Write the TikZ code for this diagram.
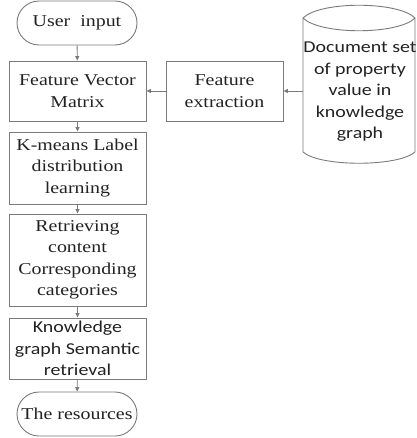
\documentclass[tikz,border=0pt]{standalone}
\usepackage{fontspec}
\setmainfont{Liberation Serif}[FakeStretch=1.2]
\newfontfamily\docsans{Carlito}[FakeStretch=1.2]
\usetikzlibrary{arrows.meta}
\definecolor{edgegray}{HTML}{7A7A7A}
\definecolor{inkgray}{HTML}{222222}
\tikzset{
  every node/.style={inner sep=0pt, text=inkgray, align=center,
    font=\fontsize{16.6}{21.5}\selectfont},
  procbox/.style={draw=edgegray, line width=0.9pt, rectangle},
  capsule/.style={draw=edgegray, line width=0.9pt, rectangle,
    rounded corners=22pt, minimum width=120pt, minimum height=44pt},
  flow/.style={draw=edgegray, line width=0.9pt,
    -{Triangle[length=4.5pt,width=4pt]}},
  sansfont/.style={font=\docsans\fontsize{16.6}{21.5}\selectfont}
}
\begin{document}
\begin{tikzpicture}[x=1pt,y=-1pt]
\useasboundingbox (0,0) rectangle (416,438);

% main column
\node[capsule] (ui) at (77,23) {User\ \ input};
\node[procbox, minimum width=137pt, minimum height=60pt] (fvm) at (77.5,91)
  {Feature Vector\\Matrix};
\node[procbox, minimum width=137pt, minimum height=72pt] (km) at (77.5,168)
  {K-means Label\\distribution\\learning};
\node[procbox, minimum width=137pt, minimum height=92pt] (ret) at (77.5,260)
  {Retrieving\\content\\Corresponding\\categories};
\node[procbox, sansfont, minimum width=137pt, minimum height=61pt] (kg) at (77.5,348.5)
  {Knowledge\\graph Semantic\\retrieval};
\node[capsule] (res) at (77,414) {The resources};

% side branch
\node[procbox, minimum width=117pt, minimum height=60pt] (fe) at (224.5,91)
  {Feature\\extraction};

% document store drawn as a cylinder with lens-shaped top
\draw[edgegray, line width=0.9pt]
  (303,18) .. controls (320,1) and (398,1) .. (415,18)
  (303,18) .. controls (320,35) and (398,35) .. (415,18)
  (303,18) -- (303,152) .. controls (320,167) and (398,167) .. (415,152) -- (415,18);
\node[sansfont] (doc) at (360,92)
  {Document set\\of property\\value in\\knowledge\\graph};
\coordinate (docin) at (303,91);

% connectors
\draw[flow] (ui) -- (fvm);
\draw[flow] (fvm) -- (km);
\draw[flow] (km) -- (ret);
\draw[flow] (ret) -- (kg);
\draw[flow] (kg) -- (res);
\draw[flow] (docin) -- (fe.east);
\draw[flow] (fe.west) -- (fvm.east);
\end{tikzpicture}
\end{document}
